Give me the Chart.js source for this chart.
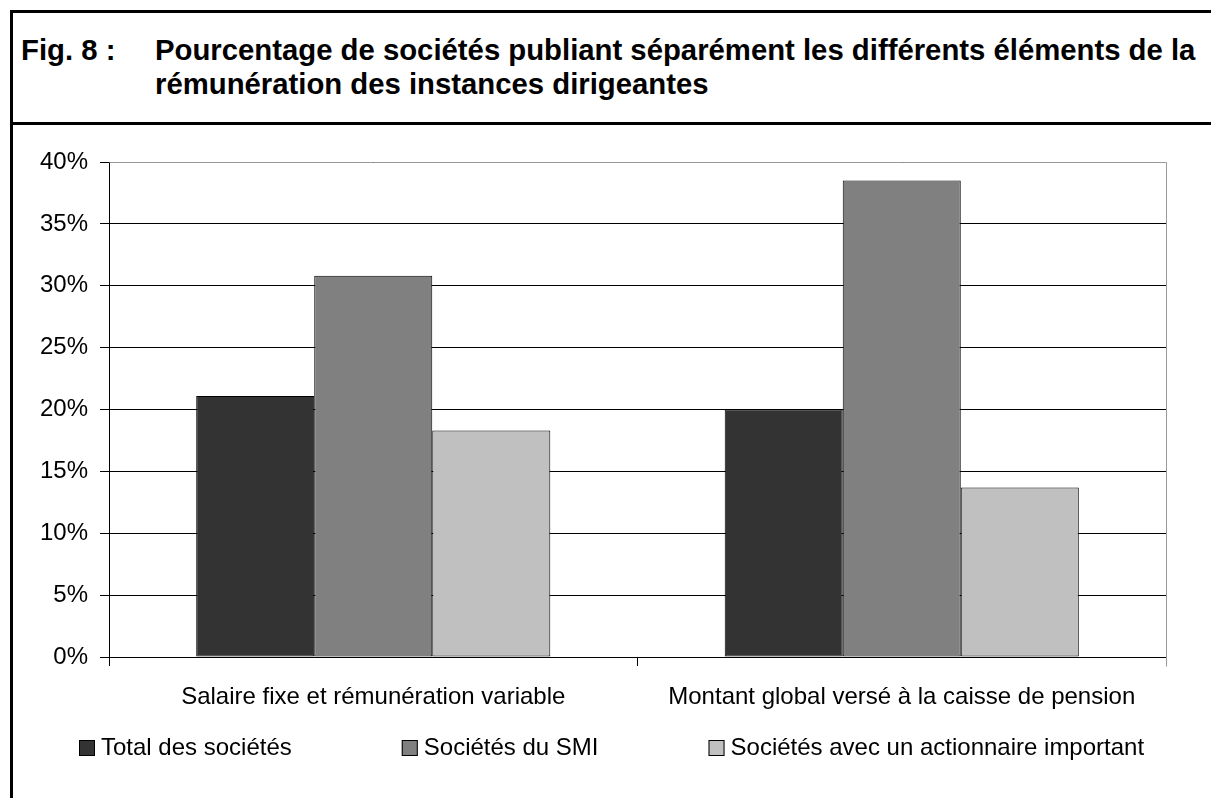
<!DOCTYPE html>
<html lang="fr">
<head>
<meta charset="UTF-8">
<title>Fig. 8 - Rémunération des instances dirigeantes</title>
<script src="https://cdn.jsdelivr.net/npm/chart.js"></script>
<style>
    body { margin: 0; background: #fff; overflow: hidden; font-family: "Liberation Sans", Arial, sans-serif; }
    #cadre { position: absolute; left: 10px; top: 10px; width: 1300px; height: 900px; border-left: 3px solid #000; border-top: 3px solid #000; }
    #separateur { position: absolute; left: 10px; top: 122px; width: 1201px; height: 3px; background: #000; }
    .titre { position: absolute; top: 33px; font-size: 29.3px; line-height: 34px; font-weight: bold; color: #000; white-space: nowrap; }
    #fig { left: 21px; }
    #texte { left: 155px; }
    #graph { position: absolute; left: 0; top: 0; }
</style>
</head>
<body>
    <div id="cadre"></div>
    <div id="separateur"></div>
    <div class="titre" id="fig">Fig. 8 :</div>
    <div class="titre" id="texte">Pourcentage de sociétés publiant séparément les différents éléments de la<br>rémunération des instances dirigeantes</div>
    <canvas id="graph" width="1211" height="798"></canvas>

<script>
    const categories = ['Salaire fixe et rémunération variable', 'Montant global versé à la caisse de pension'];
    const seriesNames = ['Total des sociétés', 'Sociétés du SMI', 'Sociétés avec un actionnaire important'];
    const totalSocietes = [21.1, 20.0];
    const societesSMI = [30.8, 38.5];
    const actionnaireImportant = [18.3, 13.7];
    const seriesColors = ['#333333', '#808080', '#c0c0c0'];
    const yMin = 0, yMax = 40, yStep = 5;

    const police = { family: '"Liberation Sans", Arial, sans-serif', size: 24 };

    // legende a la maniere d'Excel : carre + texte, espacements libres
    const legendeExcel = {
        id: 'legendeExcel',
        afterDraw(chart, args, opts) {
            const ctx = chart.ctx;
            ctx.save();
            ctx.font = police.size + 'px ' + police.family;
            ctx.textBaseline = 'middle';
            let x = opts.x;
            chart.data.datasets.forEach(function(ds, i) {
                const top = opts.y - opts.box / 2;
                ctx.fillStyle = ds.backgroundColor;
                ctx.fillRect(x, top, opts.box, opts.box);
                ctx.strokeStyle = '#000';
                ctx.lineWidth = 1;
                ctx.strokeRect(x + 0.5, top + 0.5, opts.box - 1, opts.box - 1);
                ctx.fillStyle = '#000';
                const tx = x + opts.box + opts.textGap;
                ctx.fillText(ds.label, tx, opts.y);
                x = tx + ctx.measureText(ds.label).width + (opts.gaps[i] || 0);
            });
            ctx.restore();
        }
    };

    // bord gris du haut et de droite de la zone de tracé
    const bordZone = {
        id: 'bordZone',
        afterDatasetsDraw(chart) {
            const { ctx, chartArea } = chart;
            const a = v => Math.round(v - 0.5) + 0.5;
            ctx.save();
            ctx.strokeStyle = '#999';
            ctx.lineWidth = 1;
            ctx.beginPath();
            ctx.moveTo(a(chartArea.left), a(chartArea.top));
            ctx.lineTo(a(chartArea.right), a(chartArea.top));
            ctx.lineTo(a(chartArea.right), a(chartArea.bottom) + 9);
            ctx.stroke();
            ctx.restore();
        }
    };

    const seriesData = [totalSocietes, societesSMI, actionnaireImportant];

    new Chart(document.getElementById('graph').getContext('2d'), {
        type: 'bar',
        data: {
            labels: categories,
            datasets: seriesData.map(function(values, i) {
                return {
                    label: seriesNames[i],
                    data: values,
                    backgroundColor: seriesColors[i],
                    borderColor: '#000',
                    borderWidth: 1,
                    borderSkipped: false,
                    categoryPercentage: 0.67,
                    barPercentage: 1.0
                };
            })
        },
        options: {
            responsive: false,
            animation: false,
            devicePixelRatio: 1,
            layout: { padding: { left: 0, right: 45, top: 162, bottom: 81 } },
            plugins: {
                legend: { display: false },
                tooltip: { enabled: false },
                legendeExcel: { x: 79, y: 748, box: 16, textGap: 6, gaps: [110, 110] }
            },
            scales: {
                x: {
                    offset: true,
                    grid: { offset: true, drawOnChartArea: false, drawTicks: true, tickLength: 9, color: '#000' },
                    border: { color: '#000', width: 1 },
                    ticks: { color: '#000', font: police, padding: 17, maxRotation: 0, autoSkip: false },
                    afterFit(scale) { scale.height = 60; }
                },
                y: {
                    min: yMin,
                    max: yMax,
                    grid: { color: '#000', tickLength: 9 },
                    border: { color: '#000', width: 1 },
                    ticks: { stepSize: yStep, color: '#000', font: police, padding: 12,
                             callback: function(v) { return v + '%'; } },
                    afterFit(scale) { scale.width = 109; }
                }
            }
        },
        plugins: [legendeExcel, bordZone]
    });
</script>
</body>
</html>
